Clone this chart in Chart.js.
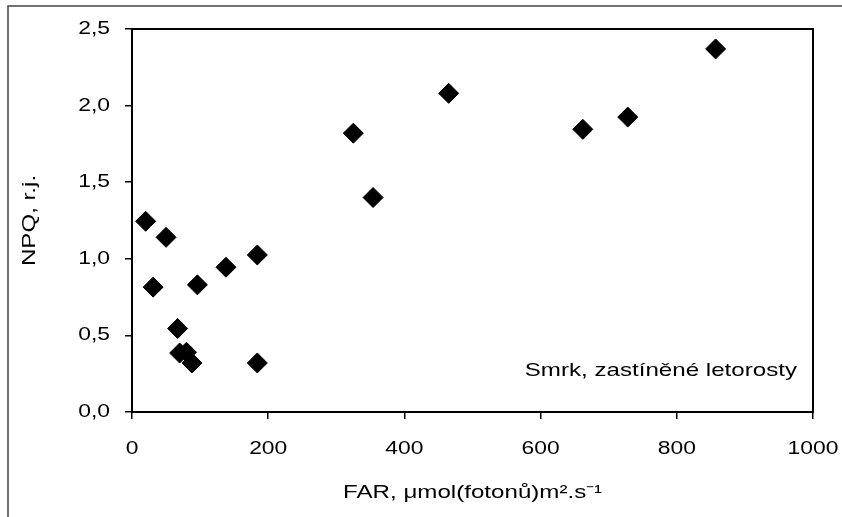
<!DOCTYPE html>
<html>
<head>
<meta charset="utf-8">
<script src="https://cdn.jsdelivr.net/npm/chart.js@4"></script>
<style>
    html, body { margin: 0; padding: 0; background: #fff; }
    #wrap { width: 842px; height: 517px; position: relative; }
</style>
</head>
<body>
<div id="wrap"><canvas id="npqChart"></canvas></div>
<script>
// FAR values (x) and NPQ values (y)
const farValues = [20, 31, 50, 67, 70, 80, 88, 96, 138, 184, 184, 325, 354, 465, 662, 728, 857];
const npqValues = [1.245, 0.815, 1.14, 0.545, 0.385, 0.39, 0.32, 0.83, 0.945, 1.025, 0.32, 1.82, 1.40, 2.08, 1.845, 1.925, 2.37];
const xTicks = [0, 200, 400, 600, 800, 1000];
const yTicks = [0, 0.5, 1.0, 1.5, 2.0, 2.5];
const noteText = "Smrk, zastíněné letorosty";

const fontName = "'Liberation Sans', Arial, sans-serif";
// the original lettering is a wide Arial, so text is stretched sideways a bit
const textStretch = 1.27;

let points = farValues.map(function (x, i) {
    return { x: x, y: npqValues[i] };
});

// outer frame, plot box and the note inside the plot
const framePlugin = {
    id: "frame",
    afterDraw: function (chart) {
        const ctx = chart.ctx;
        const a = chart.chartArea;
        ctx.save();
        ctx.strokeStyle = "#444";
        ctx.lineWidth = 1.5;
        ctx.beginPath();
        ctx.moveTo(8, 517);
        ctx.lineTo(8, 6);
        ctx.lineTo(842, 6);
        ctx.stroke();

        ctx.strokeStyle = "#000";
        ctx.lineWidth = 2;
        ctx.strokeRect(a.left, a.top, a.right - a.left, a.bottom - a.top);

        ctx.fillStyle = "#000";
        ctx.font = "19px " + fontName;
        ctx.textAlign = "right";
        ctx.textBaseline = "alphabetic";
        ctx.fillText(noteText, a.right - 16, a.bottom - 36);
        ctx.restore();
    }
};

const ctx = document.getElementById("npqChart").getContext("2d");

const plainFillText = ctx.fillText;
ctx.fillText = function (text, x, y) {
    this.save();
    this.translate(x, y);
    this.scale(textStretch, 1);
    plainFillText.call(this, text, 0, 0);
    this.restore();
};

new Chart(ctx, {
    type: "scatter",
    data: {
        datasets: [{
            label: "NPQ",
            data: points,
            pointStyle: "rectRot",
            pointRadius: 10,
            pointHoverRadius: 10,
            backgroundColor: "#000",
            borderColor: "#000",
            borderWidth: 1
        }]
    },
    options: {
        responsive: true,
        maintainAspectRatio: false,
        animation: false,
        layout: {
            padding: { left: 0, top: 29, right: 29, bottom: 0 }
        },
        plugins: {
            legend: { display: false },
            tooltip: { enabled: false }
        },
        scales: {
            x: {
                type: "linear",
                min: 0,
                max: 1000,
                afterBuildTicks: function (scale) {
                    scale.ticks = xTicks.map(function (v) { return { value: v }; });
                },
                afterFit: function (scale) {
                    scale.height = 105;
                    scale.paddingLeft = 0;
                    scale.paddingRight = 0;
                },
                ticks: {
                    color: "#000",
                    font: { family: fontName, size: 18 },
                    padding: 19,
                    maxRotation: 0,
                    autoSkip: false,
                    callback: function (value) { return String(value); }
                },
                grid: {
                    drawOnChartArea: false,
                    drawTicks: true,
                    tickLength: 7,
                    color: "#000",
                    lineWidth: 1.5
                },
                border: { display: true, color: "#000", width: 2 },
                title: {
                    display: true,
                    text: "FAR, μmol(fotonů)m².s⁻¹",
                    color: "#000",
                    font: { family: fontName, size: 19 },
                    padding: { top: 0, bottom: 13 }
                }
            },
            y: {
                type: "linear",
                min: 0,
                max: 2.5,
                afterBuildTicks: function (scale) {
                    scale.ticks = yTicks.map(function (v) { return { value: v }; });
                },
                afterFit: function (scale) { scale.width = 132; },
                ticks: {
                    color: "#000",
                    font: { family: fontName, size: 18 },
                    padding: 15,
                    autoSkip: false,
                    callback: function (value) { return value.toFixed(1).replace(".", ","); }
                },
                grid: {
                    drawOnChartArea: false,
                    drawTicks: true,
                    tickLength: 7,
                    color: "#000",
                    lineWidth: 1.5
                },
                border: { display: true, color: "#000", width: 2 },
                title: {
                    display: true,
                    text: "NPQ, r.j.",
                    color: "#000",
                    font: { family: fontName, size: 19 },
                    padding: { top: 18, bottom: 0 }
                }
            }
        }
    },
    plugins: [framePlugin]
});
</script>
</body>
</html>
